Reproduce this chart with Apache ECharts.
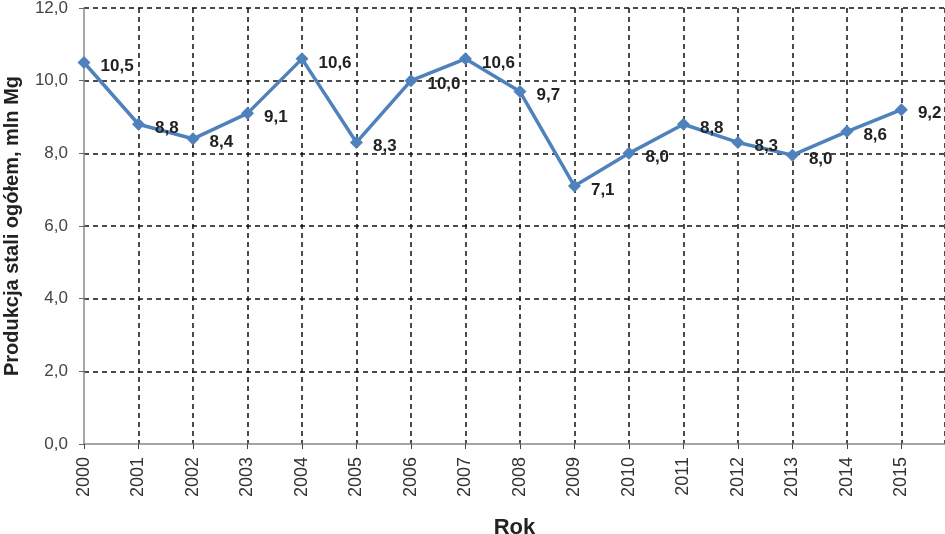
<!DOCTYPE html>
<html><head><meta charset="utf-8">
<script src="https://cdn.jsdelivr.net/npm/echarts@6/dist/echarts.min.js"></script>
<style>html,body{margin:0;padding:0;background:#fff}#c{width:945px;height:534px}</style>
</head><body><div id="c"></div>
<script>
const years = [2000,2001,2002,2003,2004,2005,2006,2007,2008,2009,2010,2011,2012,2013,2014,2015];
const production = [10.5,8.8,8.4,9.1,10.6,8.3,10.0,10.6,9.7,7.1,8.0,8.8,8.3,7.95,8.6,9.2];
const yTicks = [0,2,4,6,8,10,12];
const fmt = v => v.toFixed(1).replace('.', ',');
const chart = echarts.init(document.getElementById('c'));
chart.setOption({
  animation:false,
  grid:{left:84,right:0,top:8,bottom:90,containLabel:false,outerBoundsMode:'none'},
  xAxis:{type:'value',min:2000,max:2015.8,interval:1,
    name:'Rok',nameLocation:'middle',nameGap:84,nameMoveOverlap:false,
    nameTextStyle:{fontFamily:'Liberation Sans',fontWeight:'bold',fontSize:22,color:'#222',verticalAlign:'middle'},
    axisLine:{lineStyle:{color:'#888',width:1.5}},
    axisTick:{show:true,length:5,lineStyle:{color:'#444'}},
    axisLabel:{rotate:90,margin:13,fontFamily:'Liberation Sans',fontSize:18,color:'#333',showMaxLabel:false,
      formatter:v=>years.includes(v)?String(v):''},
    splitLine:{show:true,showMinLine:false,lineStyle:{color:'#111',type:[5,4],width:1.5}}
  },
  yAxis:{type:'value',min:yTicks[0],max:yTicks[yTicks.length-1],interval:2,
    name:'Produkcja stali ogółem, mln Mg',nameLocation:'middle',nameGap:72,nameMoveOverlap:false,
    nameTextStyle:{fontFamily:'Liberation Sans',fontWeight:'bold',fontSize:20,color:'#222',verticalAlign:'middle'},
    axisLine:{show:true,lineStyle:{color:'#888',width:1.5}},
    axisTick:{show:true,length:5,lineStyle:{color:'#666'}},
    axisLabel:{margin:16,fontFamily:'Liberation Sans',fontSize:17,color:'#444',formatter:v=>fmt(v)},
    splitLine:{show:true,showMinLine:false,lineStyle:{color:'#111',type:[5,4],width:1.5}}
  },
  series:[{type:'line',data:years.map((y,i)=>[y,production[i]]),
    lineStyle:{color:'#4F81BD',width:3.5},
    itemStyle:{color:'#4F81BD'},
    symbol:'diamond',symbolSize:13,
    label:{show:true,position:'right',distance:10,offset:[0,4],
      fontFamily:'Liberation Sans',fontWeight:'bold',fontSize:17,color:'#222',
      formatter:p=>fmt(Math.round(p.value[1]*10)/10)}
  }]
});
</script></body></html>
